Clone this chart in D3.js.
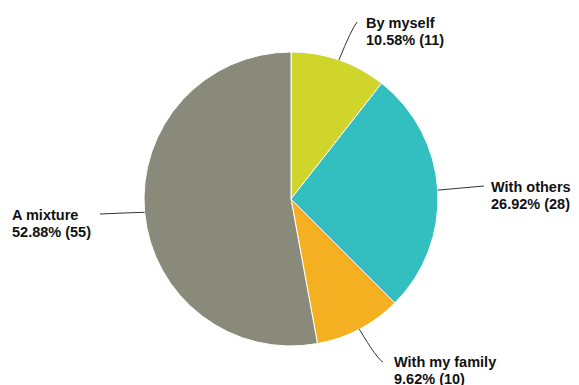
<!DOCTYPE html>
<html>
<head>
<meta charset="utf-8">
<script src="https://cdn.jsdelivr.net/npm/d3@7"></script>
<style>
  html, body { margin: 0; padding: 0; background: #fff; }
  svg { display: block; }
  .lbl { font-family: "Liberation Sans", Arial, sans-serif; font-weight: bold; font-size: 14.5px; fill: #111; }
</style>
</head>
<body>
<svg id="chart" width="579" height="385"></svg>
<script>
// Responses: who the activity is done with
const categories = ["By myself", "With others", "With my family", "A mixture"];
const counts = [11, 28, 10, 55];
const colors = ["#cfd52b", "#33bec0", "#f5b021", "#8a8a7a"];

// Label layout: where each leader line ends, and where its text block begins
const leaderEnds = [[357, 22], [484, 186], [383, 362], [100, 214]];
const leaderBends = [[351, 30], [462, 188], [377, 359], [122, 213]];
const textAnchors = [[366, 28], [491, 192], [394, 367], [12, 220]];

const width = 579, height = 385;
const cx = 291, cy = 199, radius = 147;
const lineHeight = 17;

const total = d3.sum(counts);
const data = categories.map((c, i) => ({
  name: c,
  count: counts[i],
  pct: counts[i] / total * 100,
  color: colors[i],
  i
}));

const svg = d3.select("#chart");
const g = svg.append("g").attr("transform", `translate(${cx},${cy})`);

const pie = d3.pie().sort(null).value(d => d.count);
const arc = d3.arc().innerRadius(0).outerRadius(radius);
const arcs = pie(data);

g.selectAll("path.slice")
  .data(arcs)
  .join("path")
  .attr("class", "slice")
  .attr("d", arc)
  .attr("fill", d => d.data.color)
  .attr("stroke", "#fff")
  .attr("stroke-width", 1);

// Leader lines start on the rim at each slice's mid-angle
const rimPoint = d => {
  const a = (d.startAngle + d.endAngle) / 2;
  return [cx + radius * Math.sin(a), cy - radius * Math.cos(a)];
};

svg.selectAll("path.leader")
  .data(arcs)
  .join("path")
  .attr("class", "leader")
  .attr("fill", "none")
  .attr("stroke", "#333")
  .attr("stroke-width", 1)
  .attr("d", d => {
    const p = d3.path();
    const s = rimPoint(d);
    const b = leaderBends[d.data.i];
    const e = leaderEnds[d.data.i];
    p.moveTo(s[0], s[1]);
    p.quadraticCurveTo(b[0], b[1], e[0], e[1]);
    return p.toString();
  });

const labels = svg.selectAll("text.lbl")
  .data(arcs)
  .join("text")
  .attr("class", "lbl")
  .attr("x", d => textAnchors[d.data.i][0])
  .attr("y", d => textAnchors[d.data.i][1]);

labels.append("tspan")
  .attr("x", d => textAnchors[d.data.i][0])
  .text(d => d.data.name);

labels.append("tspan")
  .attr("x", d => textAnchors[d.data.i][0])
  .attr("dy", lineHeight)
  .text(d => `${d.data.pct.toFixed(2)}% (${d.data.count})`);
</script>
</body>
</html>
